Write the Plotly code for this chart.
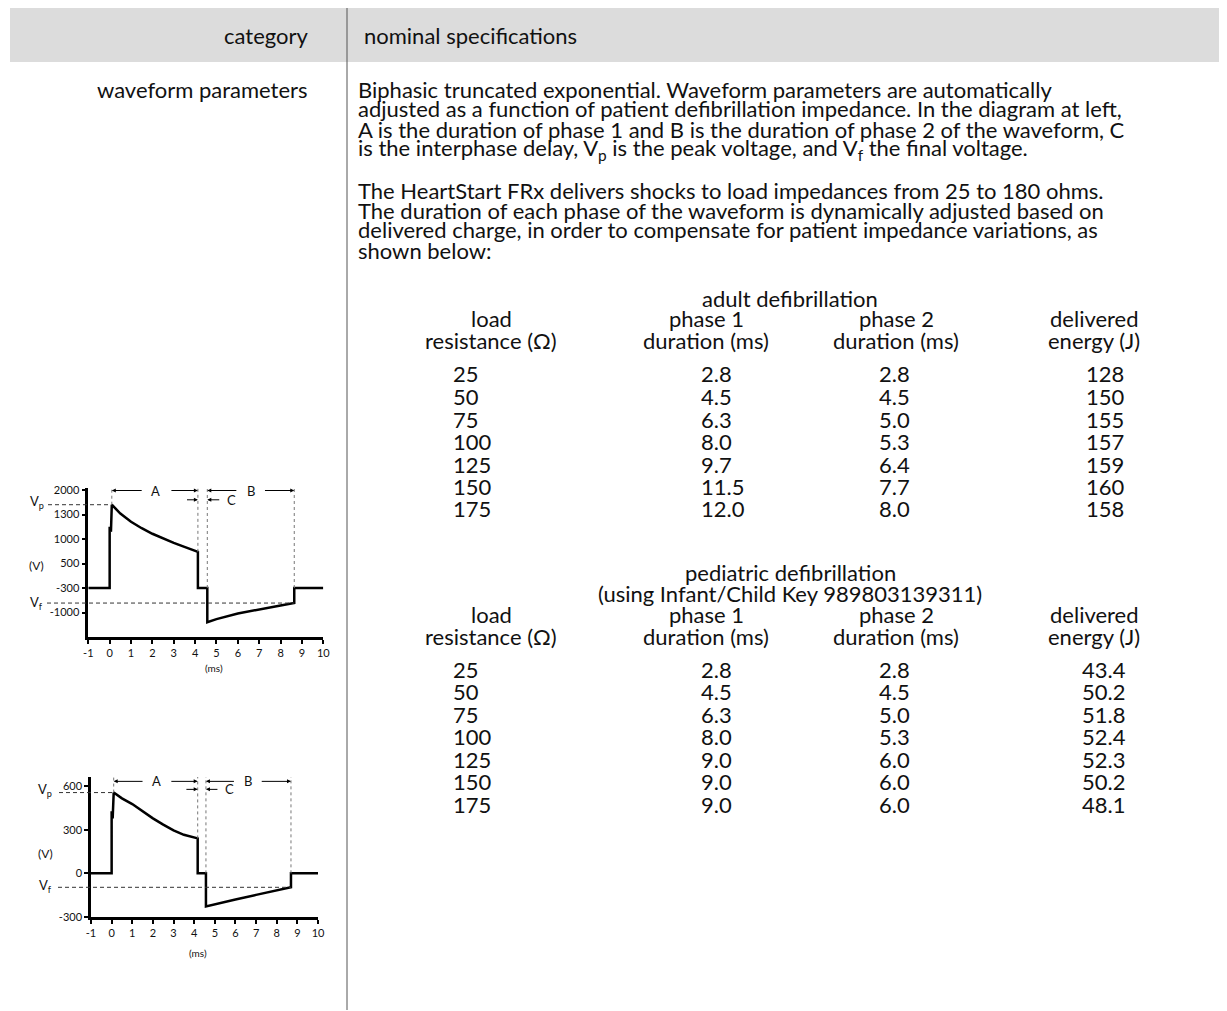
import plotly.graph_objects as go

# the page body adds an 8px margin, so the figure is drawn 8px smaller and
# every reference pixel position is shifted by that offset
OFF = 8
W, H = 1227 - OFF, 1011 - OFF
FONT = "Lato, 'Open Sans', Arial, sans-serif"
INK = "#111111"
BODY = 22

# adult / pediatric defibrillation tables
load_ohms = [25, 50, 75, 100, 125, 150, 175]
adult_phase1 = [2.8, 4.5, 6.3, 8.0, 9.7, 11.5, 12.0]
adult_phase2 = [2.8, 4.5, 5.0, 5.3, 6.4, 7.7, 8.0]
adult_energy = ["128", "150", "155", "157", "159", "160", "158"]
ped_phase1 = [2.8, 4.5, 6.3, 8.0, 9.0, 9.0, 9.0]
ped_phase2 = [2.8, 4.5, 5.0, 5.3, 6.0, 6.0, 6.0]
ped_energy = ["43.4", "50.2", "51.8", "52.4", "52.3", "50.2", "48.1"]

# adult waveform (y in the diagram's own axis units)
adult_t = [-1, 0, 0, 0.06, 0.1, 0.5, 1, 1.5, 2, 2.5, 3, 3.5, 4.13, 4.13,
           4.57, 4.57, 5, 6, 7, 8, 8.64, 8.64, 10]
adult_v = [0, 0, 1250, 1150, 1700, 1520, 1352, 1220, 1107, 1010, 922, 840, 738, 0,
           0, -697, -635, -520, -430, -355, -307, 0, 0]
adult_ytickvals = [2000, 1500, 1000, 500, 0, -500]
adult_yticktext = ["2000", "1300", "1000", "500", "-300", "-1000"]
adult_vp, adult_vf = 1700, -307

# pediatric waveform (V)
ped_t = [-1, 0, 0, 0.05, 0.1, 0.5, 1, 1.5, 2, 2.5, 3, 3.5, 4.17, 4.17,
         4.57, 4.57, 5, 6, 7, 8, 8.69, 8.69, 10]
ped_v = [0, 0, 426, 378, 555, 515, 476, 425, 378, 335, 295, 265, 240, 0,
         0, -227, -212, -180, -148, -118, -96, 0, 0]
ped_ytickvals = [600, 300, 0, -300]
ped_vp, ped_vf = 555, -96

ms_ticks = list(range(-1, 11))

PARA1 = [
    "Biphasic truncated exponential. Waveform parameters are automatically",
    "adjusted as a function of patient defibrillation impedance. In the diagram at left,",
    "A is the duration of phase 1 and B is the duration of phase 2 of the waveform, C",
    "is the interphase delay, V<sub>p</sub> is the peak voltage, and V<sub>f</sub> the final voltage.",
]
PARA2 = [
    "The HeartStart FRx delivers shocks to load impedances from 25 to 180 ohms.",
    "The duration of each phase of the waveform is dynamically adjusted based on",
    "delivered charge, in order to compensate for patient impedance variations, as",
    "shown below:",
]


def px(x):
    return (x - OFF) / W


def py(y):
    return 1 - (y - OFF) / H


annotations = []
shapes = []


def label(text, x, y, size=BODY, anchor="left", **kw):
    annotations.append(dict(
        text=text, x=px(x), y=py(y), xref="paper", yref="paper",
        xanchor=anchor, yanchor="middle", showarrow=False,
        font=dict(family=FONT, size=size, color=INK), **kw))


# header band and divider
shapes.append(dict(type="rect", xref="paper", yref="paper", x0=px(10), x1=1,
                   y0=py(62), y1=py(8), fillcolor="#dcdcdc", line_width=0, layer="below"))
shapes.append(dict(type="line", xref="paper", yref="paper", x0=px(347), x1=px(347),
                   y0=py(8), y1=py(1010), line=dict(color="#555", width=1)))

label("category", 310, 36, anchor="right")
label("nominal specifications", 362, 36)
label("waveform parameters", 310, 89, anchor="right")

for i, line in enumerate(PARA1):
    label(line, 356, 89 + 20 * i)
for i, line in enumerate(PARA2):
    label(line, 356, 190 + 20 * i)


def table(top, title_lines, energy, ph1, ph2, energy_x):
    y = top
    for t in title_lines:
        label(t, 790, y, anchor="center")
        y += 21
    label("load", 491, y, anchor="center")
    label("phase 1", 706, y, anchor="center")
    label("phase 2", 896, y, anchor="center")
    label("delivered", 1094, y, anchor="center")
    y += 22
    label("resistance (\u03a9)", 491, y, anchor="center")
    label("duration (ms)", 706, y, anchor="center")
    label("duration (ms)", 896, y, anchor="center")
    label("energy (J)", 1094, y, anchor="center")
    y += 33
    for r, ohm in enumerate(load_ohms):
        yy = y + 22.5 * r
        label(str(ohm), 451, yy)
        label(f"{ph1[r]:.1f}", 699, yy)
        label(f"{ph2[r]:.1f}", 877, yy)
        label(energy[r], energy_x, yy)


table(298, ["adult defibrillation"], adult_energy, adult_phase1, adult_phase2, 1084)
table(572, ["pediatric defibrillation", "(using Infant/Child Key 989803139311)"],
      ped_energy, ped_phase1, ped_phase2, 1080)

fig = go.Figure()
fig.add_trace(go.Scatter(x=adult_t, y=adult_v, mode="lines", xaxis="x", yaxis="y",
                         line=dict(color="black", width=2.5), hoverinfo="skip"))
fig.add_trace(go.Scatter(x=ped_t, y=ped_v, mode="lines", xaxis="x2", yaxis="y2",
                         line=dict(color="black", width=2.5), hoverinfo="skip"))

axis_style = dict(showline=True, linewidth=2.5, linecolor="black", ticks="outside",
                  ticklen=4, tickwidth=2, tickcolor="black", showgrid=False, zeroline=False,
                  automargin=False, tickfont=dict(family=FONT, size=11, color=INK),
                  fixedrange=True)

charts = [
    dict(xa="x", ya="y", xpix=(88.3, 323.3), ypix=(637, 488), yr=(-1000, 2041),
         tv=adult_ytickvals, tt=adult_yticktext, vp=adult_vp, vf=adult_vf,
         p1=4.13, p2=4.57, p3=8.64, vend=738, arrow_y=1990, c_y=1800,
         vp_left=48, vf_left=47, lab_x=37, vp_y=502, v_y=565, vf_y=603, ms_x=4.9, ms_y=668),
    dict(xa="x2", ya="y2", xpix=(91, 318), ypix=(917, 777), yr=(-300, 662),
         tv=ped_ytickvals, tt=[str(v) for v in ped_ytickvals], vp=ped_vp, vf=ped_vf,
         p1=4.17, p2=4.57, p3=8.69, vend=240, arrow_y=632, c_y=577,
         vp_left=59, vf_left=58, lab_x=45, vp_y=790, v_y=853, vf_y=886, ms_x=4.2, ms_y=953),
]

layout_axes = {}
for k, c in enumerate(charts):
    xname = "xaxis" if k == 0 else "xaxis2"
    yname = "yaxis" if k == 0 else "yaxis2"
    layout_axes[xname] = dict(axis_style, domain=[px(c["xpix"][0]), px(c["xpix"][1])],
                              range=[-1, 10], tickvals=ms_ticks,
                              ticktext=[str(t) for t in ms_ticks], anchor=c["ya"])
    layout_axes[yname] = dict(axis_style, domain=[py(c["ypix"][0]), py(c["ypix"][1])],
                              range=list(c["yr"]), tickvals=c["tv"], ticktext=c["tt"],
                              anchor=c["xa"])
    xd = c["xa"] + " domain"
    top = c["yr"][1]
    span = c["xpix"][1] - c["xpix"][0]

    def dom(t):
        return (t + 1) / 11

    # dashed Vp / Vf guides
    p3 = c["p3"]
    shapes.append(dict(type="line", xref=xd, yref=c["ya"],
                       x0=(c["vp_left"] - c["xpix"][0]) / span, x1=dom(0.1),
                       y0=c["vp"], y1=c["vp"], line=dict(color="#333", width=1, dash="4px,3px")))
    shapes.append(dict(type="line", xref=xd, yref=c["ya"],
                       x0=(c["vf_left"] - c["xpix"][0]) / span, x1=dom(p3),
                       y0=c["vf"], y1=c["vf"], line=dict(color="#333", width=1, dash="4px,3px")))
    # dotted phase markers
    for xx, y0 in [(0.1, c["vp"]), (c["p1"], c["vend"]), (c["p2"], 0), (p3, 0)]:
        shapes.append(dict(type="line", xref=c["xa"], yref=c["ya"], x0=xx, x1=xx, y0=y0, y1=top,
                           line=dict(color="#777", width=1, dash="dot")))

    def arrow(head, tail, y):
        annotations.append(dict(text="", x=head, y=y, ax=tail, ay=y, xref=c["xa"], yref=c["ya"],
                                axref=c["xa"], ayref=c["ya"], showarrow=True, arrowhead=2,
                                arrowsize=0.8, arrowwidth=1, arrowcolor="black", standoff=0,
                                startstandoff=0))

    def small(text, x, y, ref=True, size=12, anchor="center"):
        annotations.append(dict(text=text, x=x, y=y, xref=c["xa"] if ref else "paper",
                                yref=c["ya"] if ref else "paper", showarrow=False,
                                xanchor=anchor, yanchor="middle",
                                font=dict(family=FONT, size=size, color=INK)))

    ay = c["arrow_y"]
    arrow(0.1, 1.57, ay)
    arrow(c["p1"], 2.82, ay)
    small("A", 2.15, ay, size=13)
    arrow(c["p2"], 6.0, ay)
    arrow(p3, 7.2, ay)
    small("B", 6.6, ay, size=13)
    arrow(c["p1"], 3.55, c["c_y"])
    arrow(c["p2"], 5.2, c["c_y"])
    small("C", 5.7, c["c_y"], size=13)

    small("V<sub>p</sub>", px(c["lab_x"]), py(c["vp_y"]), ref=False, size=13)
    small("(V)", px(c["lab_x"]), py(c["v_y"]), ref=False, size=12)
    small("V<sub>f</sub>", px(c["lab_x"]), py(c["vf_y"]), ref=False, size=13)
    annotations.append(dict(text="(ms)", x=c["ms_x"], y=py(c["ms_y"]), xref=c["xa"],
                            yref="paper", showarrow=False, xanchor="center", yanchor="middle",
                            font=dict(family=FONT, size=10, color=INK)))

fig.update_layout(
    width=W, height=H,
    margin=dict(l=0, r=0, t=0, b=0, pad=0),
    paper_bgcolor="white", plot_bgcolor="white",
    showlegend=False,
    annotations=annotations,
    shapes=shapes,
    **layout_axes,
)

fig.write_html("out.html")
